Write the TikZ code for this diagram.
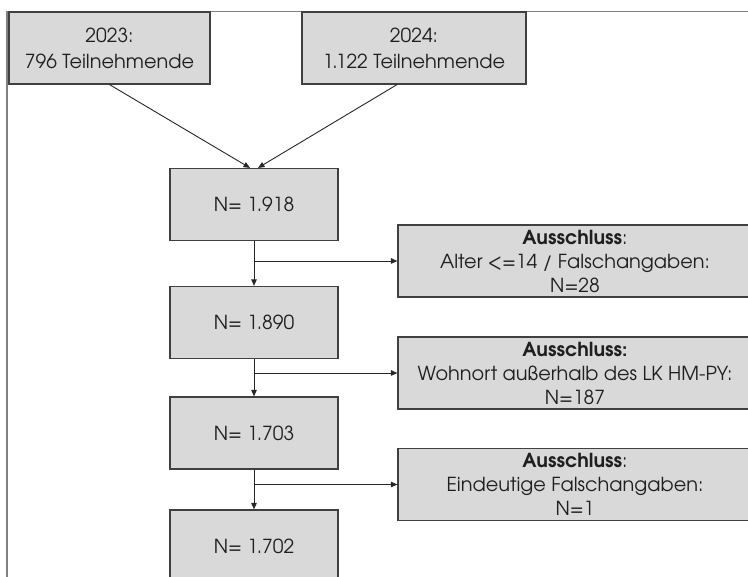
\documentclass[tikz,border=0pt]{standalone}
\usepackage{fontspec}
\setmainfont{texgyreadventor}[Extension=.otf,UprightFont=*-regular,BoldFont=*-bold]
\usetikzlibrary{arrows.meta,positioning}
\definecolor{boxfill}{RGB}{217,217,217}
\definecolor{boxline}{RGB}{64,64,64}
\definecolor{frameline}{RGB}{128,128,128}
\def\flowx{254}
\def\exx{575}

\begin{document}
\begin{tikzpicture}[x=1pt,y=-1pt,
  box/.style={draw=boxline,fill=boxfill,line width=1.2pt,inner sep=0pt,align=center,text=black!88,font=\fontsize{19.3}{24}\selectfont},
  flowarrow/.style={-{Triangle[length=6.5pt,width=5.5pt]},line width=0.9pt,black!85}]
  \clip (0,0) rectangle (748,577);
  \draw[frameline,line width=1.6pt] (7,577) -- (7,11.5) -- (748,11.5);
  % Jahrgaenge
  \node[box,minimum width=201pt,minimum height=72pt,font=\fontsize{19.3}{26}\selectfont] (y2023) at (109.5,48) {2023:\\796 Teilnehmende};
  \node[box,minimum width=224pt,minimum height=72pt,font=\fontsize{19.3}{26}\selectfont] (y2024) at (414,48) {2024:\\1.122 Teilnehmende};
  % Stichprobe
  \foreach \nm/\yy/\txt in {n1918/204.5/1.918, n1890/322.5/1.890, n1703/433/1.703, n1702/546/1.702}
    \node[box,minimum width=168pt,minimum height=72pt] (\nm) at (\flowx,\yy) {N= \txt};
  % Ausschluesse
  \node[box,minimum width=354pt,minimum height=72pt] (ex1) at (\exx,261) {\textbf{Ausschluss}:\\Alter <=14 / Falschangaben:\\N=28};
  \node[box,minimum width=354pt,minimum height=72pt] (ex2) at (\exx,373) {\textbf{Ausschluss:}\\Wohnort außerhalb des LK HM-PY:\\N=187};
  \node[box,minimum width=354pt,minimum height=72pt] (ex3) at (\exx,484.5) {\textbf{Ausschluss}:\\Eindeutige Falschangaben:\\N=1};
  % Pfeile
  \draw[flowarrow] (y2023.south) -- ([xshift=-4pt]n1918.north);
  \draw[flowarrow] ([xshift=-17pt]y2024.south) -- ([xshift=4pt]n1918.north);
  \foreach \a/\b/\e in {n1918/n1890/ex1, n1890/n1703/ex2, n1703/n1702/ex3} {
    \draw[flowarrow] (\a.south) -- (\b.north);
    \draw[flowarrow] (\e.west -| \a.south) -- (\e.west);
  }
\end{tikzpicture}
\end{document}
